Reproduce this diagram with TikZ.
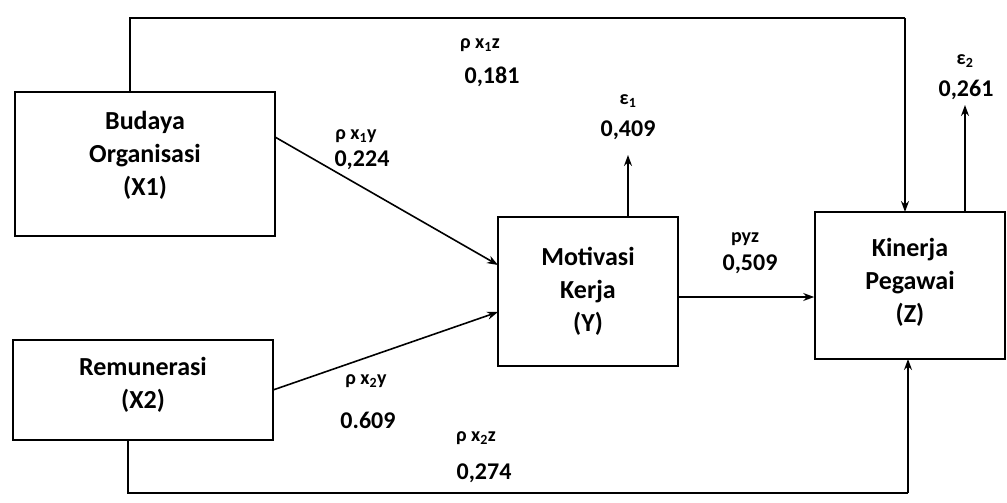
\documentclass[tikz,border=0pt]{standalone}
\usepackage{fontspec}
\setmainfont{Carlito}
\usetikzlibrary{arrows.meta}
\begin{document}
\begin{tikzpicture}[x=1pt,y=-1pt,
  box/.style={draw,line width=1.6pt,inner sep=0pt,align=center,font=\fontsize{26}{33}\selectfont\bfseries},
  lbl/.style={font=\fontsize{20}{24}\selectfont\bfseries,inner sep=0pt},
  num/.style={font=\fontsize{24}{24}\selectfont\bfseries,inner sep=0pt},
  arr/.style={line width=1.6pt,-{Stealth[length=11pt,width=8pt]}},
  ln/.style={line width=1.6pt}]
\useasboundingbox (0,0) rectangle (1007,503);
\node[box,minimum width=260pt,minimum height=144pt,text depth=21pt] (x1) at (145,164) {Budaya\\Organisasi\\(X1)};
\node[box,minimum width=260pt,minimum height=100pt,text depth=14pt] (x2) at (143,390) {Remunerasi\\(X2)};
\node[box,minimum width=180pt,minimum height=149pt] (y) at (588,291.5) {Motivasi\\Kerja\\(Y)};
\node[box,minimum width=190pt,minimum height=147pt,text depth=10pt] (z) at (910,285.5) {Kinerja\\Pegawai\\(Z)};
% X1 -> Y, X2 -> Y
\coordinate (x1o) at (275,137);
\coordinate (y1i) at (498,265);
\draw[arr] (x1o) -- (y1i);
\coordinate (x2o) at (273,390);
\coordinate (y2i) at (498,312);
\draw[arr] (x2o) -- (y2i);
% Y -> Z
\draw[arr] (y.east |- 0,297) -- (z.west |- 0,297);
% top path X1 -> Z
\coordinate (x1t) at (130,92);
\coordinate (t1) at (130,18);
\coordinate (t2) at (905,18);
\coordinate (zt) at (905,212);
\draw[ln] (x1t) -- (t1) -- (t2);
\draw[arr] (t2) -- (zt);
% bottom path X2 -> Z
\coordinate (x2b) at (128,440);
\coordinate (b1) at (128,493);
\coordinate (b2) at (908,493);
\coordinate (zb) at (908,359);
\draw[ln] (x2b) -- (b1) -- (b2);
\draw[arr] (b2) -- (zb);
% residuals
\coordinate (e1) at (628,155);
\draw[arr] (y.north -| 628,0) -- (e1);
\coordinate (e2) at (965,105);
\draw[arr] (z.north -| 965,0) -- (e2);
% labels
\node[lbl] (le1) at (628,101) {ε\textsubscript{1}};
\node[num] (ve1) at (628,130) {0,409};
\node[lbl] (le2) at (965,61) {ε\textsubscript{2}};
\node[num] (ve2) at (966,90) {0,261};
\node[lbl] (lx1y) at (356,136) {ρ x\textsubscript{1}y};
\node[num] (vx1y) at (362,160) {0,224};
\node[lbl] (lx2y) at (366,381) {ρ x\textsubscript{2}y};
\node[num] (vx2y) at (368,420) {0.609};
\node[lbl] (lyz) at (745,239) {pyz};
\node[num] (vyz) at (750,264) {0,509};
\node[lbl] (lx1z) at (480,45) {ρ x\textsubscript{1}z};
\node[num] (vx1z) at (492,77) {0,181};
\node[lbl] (lx2z) at (476,438) {ρ x\textsubscript{2}z};
\node[num] (vx2z) at (484,473) {0,274};
\end{tikzpicture}
\end{document}
